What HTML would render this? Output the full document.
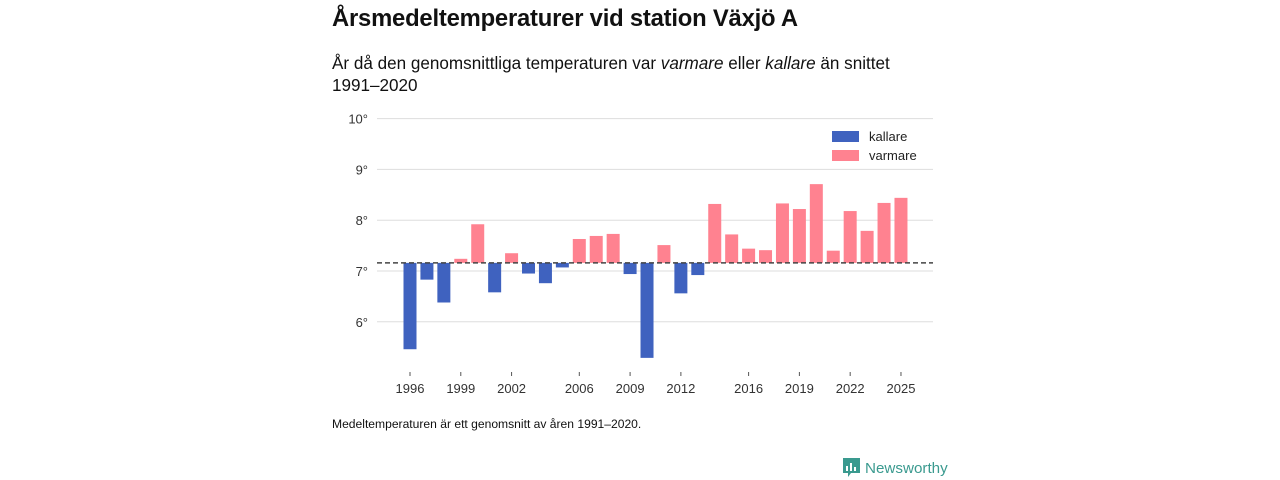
<!DOCTYPE html>
<html><head><meta charset="utf-8">
<style>
html,body{margin:0;padding:0;background:#fff;}
body{width:1280px;height:480px;position:relative;overflow:hidden;font-family:"Liberation Sans","Noto Sans CJK SC",sans-serif;color:#111;}
#title{position:absolute;left:332px;top:5px;font-size:23.8px;font-weight:bold;margin:0;letter-spacing:-0.2px;}
#subtitle{position:absolute;left:332px;top:53px;font-size:17.1px;line-height:22px;width:600px;margin:0;}
#note{position:absolute;left:332px;top:417px;font-size:12.1px;}
#logo{position:absolute;left:843px;top:458px;font-size:15.2px;color:#3a9a8f;display:flex;align-items:center;gap:5px;}
svg{position:absolute;left:0;top:0;}
</style></head>
<body>
<h1 id="title">Årsmedeltemperaturer vid station Växjö A</h1>
<p id="subtitle">År då den genomsnittliga temperaturen var <i>varmare</i> eller <i>kallare</i> än snittet 1991–2020</p>
<svg id="chart" width="1280" height="480"></svg>
<div id="note">Medeltemperaturen är ett genomsnitt av åren 1991–2020.</div>
<div id="logo">
<svg width="17" height="20" viewBox="0 0 17 20" style="position:static"><path d="M0 0h17v15H8l-3 4v-4H0z" fill="#3a9a8f"/><rect x="3" y="8" width="2" height="5" fill="#fff"/><rect x="7" y="5" width="2" height="8" fill="#fff"/><rect x="11" y="9" width="2" height="4" fill="#fff"/></svg>
<span>Newsworthy</span></div>
<script>
const years=[1996,1997,1998,1999,2000,2001,2002,2003,2004,2005,2006,2007,2008,2009,2010,2011,2012,2013,2014,2015,2016,2017,2018,2019,2020,2021,2022,2023,2024,2025];
const temps=[5.46,6.83,6.38,7.24,7.92,6.58,7.35,6.95,6.76,7.07,7.63,7.69,7.73,6.94,5.29,7.51,6.56,6.92,8.32,7.72,7.44,7.41,8.33,8.22,8.71,7.40,8.18,7.79,8.34,8.44];
const baseline=7.16;
const yTicks=[6,7,8,9,10];
const xTickYears=[1996,1999,2002,2006,2009,2012,2016,2019,2022,2025];
const NS="http://www.w3.org/2000/svg";
const svg=document.getElementById('chart');
const y=v=>271-(v-7)*50.8;
const x=yr=>410+(yr-1996)*16.93;
function mk(t,a){const e=document.createElementNS(NS,t);for(const k in a)e.setAttribute(k,a[k]);svg.appendChild(e);return e;}
yTicks.forEach(t=>{
  const g=mk('line',{x1:377,x2:933,y1:y(t),y2:y(t),stroke:'#ddd','stroke-width':1});
  
  
  const l=mk('text',{x:368,y:y(t)+5,'text-anchor':'end','font-size':13,fill:'#333'});
  l.textContent=t+'°';
  
  
});
years.forEach((yr,i)=>{
  const v=temps[i];
  const top=Math.min(y(v),y(baseline)),h=Math.abs(y(v)-y(baseline));
  const r=mk('rect',{x:x(yr)-6.5,y:top,width:13,height:h,fill:v<baseline?'#3f62bf':'#ff8290'});
  
  
});
const bl=mk('line',{x1:377,x2:933,y1:y(baseline),y2:y(baseline),stroke:'#444','stroke-width':1.5,'stroke-dasharray':'5,3'});


xTickYears.forEach(yr=>{
  const t=mk('line',{x1:x(yr),x2:x(yr),y1:372,y2:376,stroke:'#555'});
  
  
  const l=mk('text',{x:x(yr),y:393,'text-anchor':'middle','font-size':13,fill:'#333'});
  l.textContent=yr;
  
  
});
[['kallare','#3f62bf',131],['varmare','#ff8290',150]].forEach(([n,c,yy])=>{
  const s=mk('rect',{x:832,y:yy,width:27,height:11,fill:c});
  
  
  const t=mk('text',{x:869,y:yy+10,'font-size':13,fill:'#222'});
  t.textContent=n;
  
  
});
</script>
</body></html>
